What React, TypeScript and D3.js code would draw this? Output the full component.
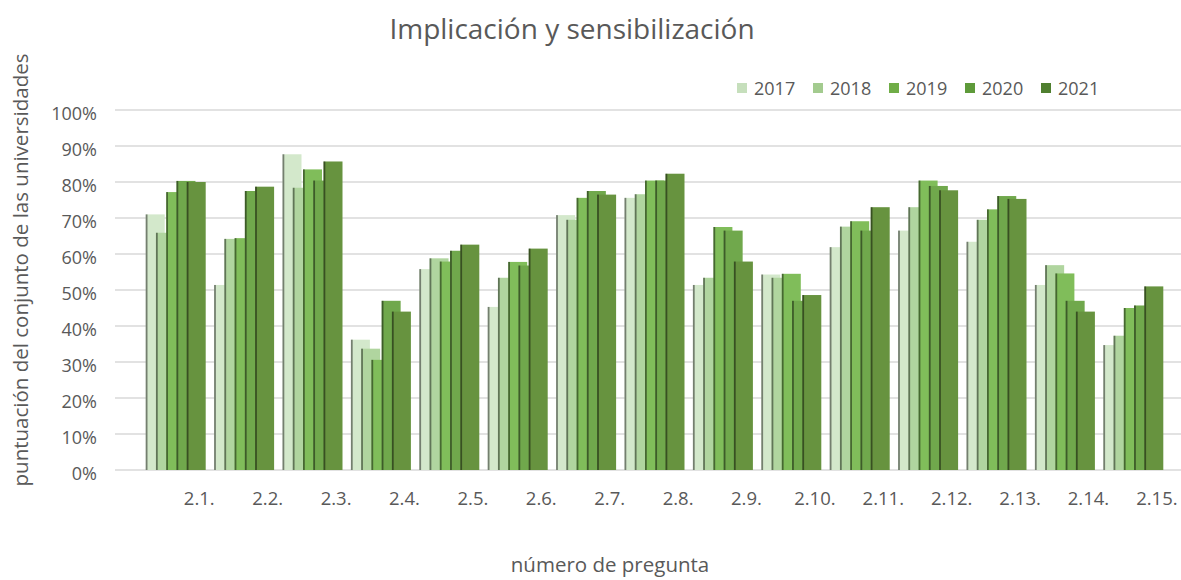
import React from 'react';
import * as d3 from 'd3';

const categories = ['2.1.', '2.2.', '2.3.', '2.4.', '2.5.', '2.6.', '2.7.', '2.8.', '2.9.', '2.10.', '2.11.', '2.12.', '2.13.', '2.14.', '2.15.'];
const years = ['2017', '2018', '2019', '2020', '2021'];

const v2017 = [0.71, 0.514, 0.877, 0.362, 0.558, 0.453, 0.708, 0.756, 0.514, 0.543, 0.619, 0.665, 0.634, 0.514, 0.347];
const v2018 = [0.659, 0.642, 0.784, 0.337, 0.588, 0.534, 0.695, 0.766, 0.534, 0.534, 0.676, 0.73, 0.695, 0.569, 0.373];
const v2019 = [0.772, 0.644, 0.835, 0.306, 0.579, 0.578, 0.756, 0.804, 0.675, 0.545, 0.691, 0.804, 0.724, 0.546, 0.45];
const v2020 = [0.803, 0.775, 0.804, 0.47, 0.609, 0.568, 0.775, 0.804, 0.665, 0.47, 0.665, 0.789, 0.761, 0.47, 0.457];
const v2021 = [0.8, 0.787, 0.857, 0.44, 0.626, 0.615, 0.765, 0.823, 0.579, 0.486, 0.73, 0.777, 0.753, 0.44, 0.51];

const seriesValues = [v2017, v2018, v2019, v2020, v2021];
const colors = ['#d3e8cb', '#b0d59f', '#80bd5a', '#70a84c', '#67933f'];
const legendColors = ['#c6dfbc', '#a3cb8f', '#70ad47', '#5e9a3a', '#4f7f2f'];
const yTicks = [0, 0.1, 0.2, 0.3, 0.4, 0.5, 0.6, 0.7, 0.8, 0.9, 1];

const W = 1181;
const H = 580;
const FONT = '"Open Sans", Calibri, sans-serif';

const App: React.FC = () => {
  const y = d3.scaleLinear().domain([0, 1]).range([470, 110]);
  const x = d3.scaleBand<string>()
    .domain(categories)
    .range([165.1, 165.1 + categories.length * 68.4])
    .padding(0);
  const inner = d3.scalePoint<string>().domain(years).range([0, 41]);
  const barW = 19;
  const fmt = d3.format('.0%');

  return (
    <svg width={W} height={H} style={{ display: 'block', position: 'absolute', left: 0, top: 0 }}>
      <rect width={W} height={H} fill="#fff" />
      <text x={572} y={39} textAnchor="middle" fontFamily={FONT} fontSize={28} fill="#595959">
        Implicación y sensibilización
      </text>

      {/* gridlines */}
      {yTicks.map(t => (
        <g key={t}>
          <line x1={115} x2={W} y1={y(t)} y2={y(t)} stroke="#d9d9d9" strokeWidth={1.5} />
          <text x={97} y={y(t) + 10} textAnchor="end" fontFamily={FONT} fontSize={18} fill="#595959">
            {fmt(t)}
          </text>
        </g>
      ))}

      {/* bars */}
      {years.map((yr, si) => (
        <g key={yr}>
          {categories.map((c, ci) => {
            const x0 = (x(c) as number) + x.bandwidth() / 2 - 53.6 + (inner(yr) as number);
            const v = seriesValues[si][ci];
            return (
              <g key={c}>
                <rect x={x0} y={y(v)} width={barW} height={y(0) - y(v)} fill={colors[si]} />
                <rect x={x0} y={y(v)} width={1.8} height={y(0) - y(v)} fill="#000" opacity={0.45} />
              </g>
            );
          })}
        </g>
      ))}

      {/* x labels */}
      {categories.map(c => (
        <text key={c} x={(x(c) as number) + x.bandwidth() / 2} y={505} textAnchor="middle"
          fontFamily={FONT} fontSize={18.5} fill="#595959">
          {c}
        </text>
      ))}

      {/* legend */}
      {years.map((yr, i) => (
        <g key={yr} transform={`translate(${737 + i * 76},88)`}>
          <rect x={0} y={-5} width={10} height={10} fill={legendColors[i]} />
          <text x={17} y={6.5} fontFamily={FONT} fontSize={18} fill="#595959">{yr}</text>
        </g>
      ))}

      {/* axis titles */}
      <text transform="translate(28,270) rotate(-90)" textAnchor="middle" fontFamily={FONT} fontSize={20.5} fill="#595959">
        puntuación del conjunto de las universidades
      </text>
      <text x={610} y={572} textAnchor="middle" fontFamily={FONT} fontSize={20.5} fill="#595959">
        número de pregunta
      </text>
    </svg>
  );
};

export default App;
